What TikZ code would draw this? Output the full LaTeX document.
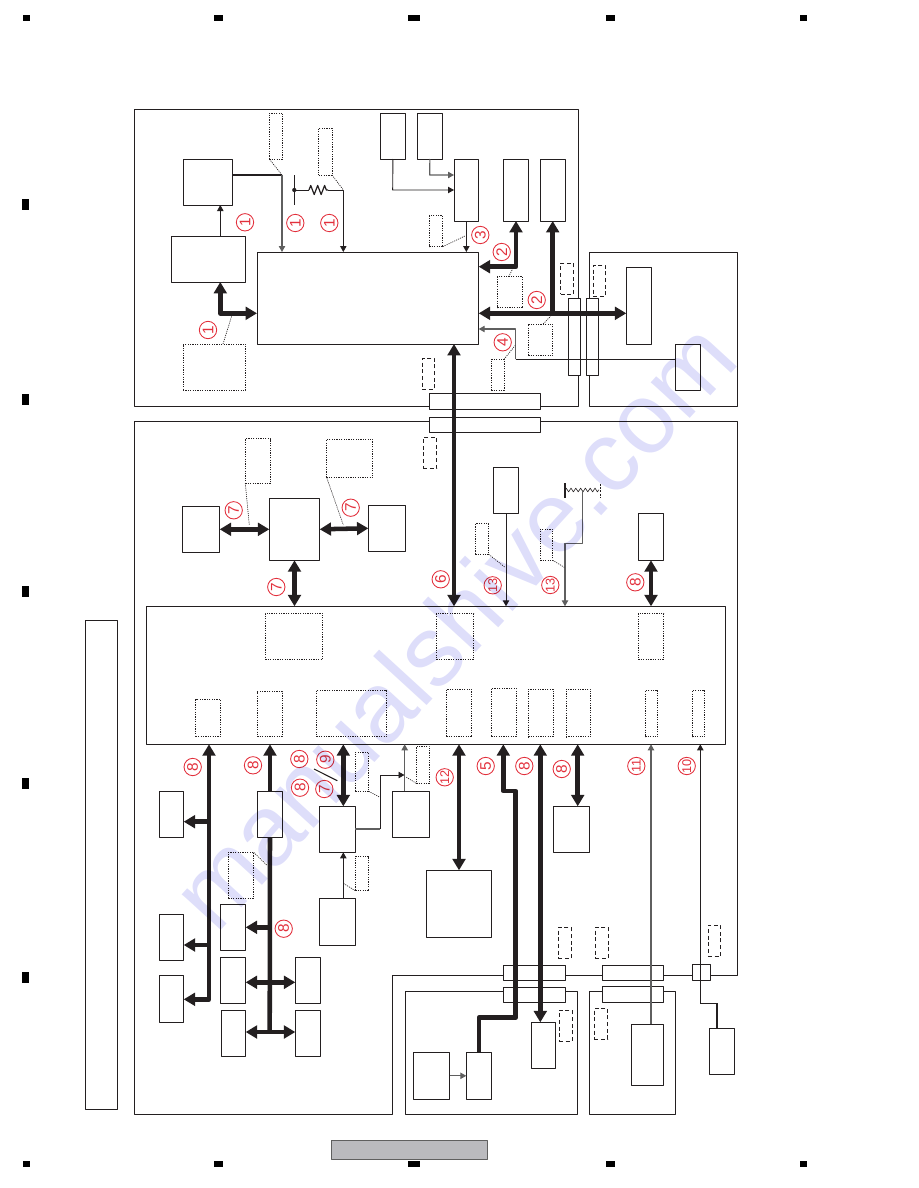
\documentclass[tikz,border=0pt]{standalone}
\usepackage{fontspec}
\setmainfont{Liberation Sans}
\usetikzlibrary{arrows.meta,decorations.pathmorphing}
\definecolor{ink}{RGB}{35,31,32}
\definecolor{wiregray}{RGB}{95,95,95}
\definecolor{numred}{RGB}{226,48,60}
\definecolor{wmark}{RGB}{222,222,250}
\definecolor{tabgray}{RGB}{186,186,190}
\tikzset{
  sz/.style 2 args={minimum width=#1*.75pt,minimum height=#2*.75pt},
  blk/.style={draw=ink,fill=white,line width=.75pt,inner sep=0pt,outer sep=0pt},
  frm/.style={draw=ink,line width=.75pt,inner sep=0pt,outer sep=0pt},
  dotbox/.style={draw=ink,line width=.75pt,dash pattern=on .9pt off .9pt,inner sep=0pt,outer sep=0pt},
  dashbox/.style={draw=ink,line width=.6pt,dash pattern=on 3pt off 2pt,inner sep=0pt,outer sep=0pt},
  leader/.style={draw=ink,line width=.5pt,dash pattern=on .8pt off .8pt},
  wire/.style={draw=ink,line width=.7pt},
  graywire/.style={draw=wiregray,line width=.85pt},
  hvy/.style={draw=ink,line width=1.5pt},
  wiretip/.style={-{Triangle[width=4.8pt,length=4.5pt]}},
  bus/.style={draw=ink,line width=3.4pt},
  busone/.style={bus,-{Triangle[width=9.5pt,length=8.5pt]}},
  bustwo/.style={bus,{Triangle[width=9.5pt,length=8.5pt]}-{Triangle[width=9.5pt,length=8.5pt]}},
  num/.style={circle,draw=numred,text=numred,line width=.65pt,minimum size=13pt,inner sep=0pt,rotate=90,font=\fontsize{11.5}{11}\selectfont},
  numtwo/.style={num,font=\fontsize{9.5}{9}\selectfont},
  pagemark/.style={fill=black,inner sep=0pt,outer sep=0pt},
  wmtext/.style={text=wmark,rotate=47.5,blend mode=multiply,font=\fontsize{75}{80}\selectfont}
}
\begin{document}
\begin{tikzpicture}[x=.75pt,y=-.75pt,line join=round]
  \useasboundingbox (0,0) rectangle (918,1188);
  % frames
  \node[frm,sz={443.7}{297}] (frameA) at (356.2,257.5) {};
  \node[frm,sz={148}{153.6}] (frameB) at (663.3,329.5) {};
  \coordinate (cA) at (134.3,421.7); \coordinate (cB) at (737.3,421.7); \coordinate (cC) at (737.3,975.3);
  \coordinate (cD) at (392.5,975.3); \coordinate (cE) at (392.5,1114.3); \coordinate (cF) at (134.3,1114.3);
  \draw[frm] (cA)--(cB)--(cC)--(cD)--(cE)--(cF)--cycle;
  \node[frm,sz={172.4}{123}] (frameR) at (491.5,1052.8) {};
  \node[frm,sz={86.4}{123}] (frameS) at (632.5,1052.8) {};
  \node[frm,sz={32.4}{489.3}] (sideTab) at (101.5,864.7) {};
  % connector strips
  \node[blk,sz={111.4}{16}] (stripP) at (485,401.3) {};
  \node[blk,sz={111.4}{15}] (stripQ) at (485,424.8) {};
  \node[blk,sz={12}{77.4}] (stripR) at (574.3,337) {};
  \node[blk,sz={12}{77.4}] (stripS) at (592.3,337) {};
  \node[blk,sz={62.4}{15.4}] (stripO) at (534.5,973) {};
  \node[blk,sz={62.4}{15.4}] (stripT) at (534.5,995) {};
  \node[blk,sz={61.4}{15.4}] (stripU) at (633,973) {};
  \node[blk,sz={61.4}{16.4}] (stripV) at (633,994.5) {};
  \node[blk,sz={18.4}{16.4}] (stripW) at (701.5,972.5) {};
  % upper board
  \node[blk,sz={49.7}{46}] (regC) at (207.85,182) {};
  \node[blk,sz={74.7}{46}] (regD) at (208.35,259) {};
  \node[blk,sz={221.7}{92}] (mainA) at (367.85,298) {};
  \node[blk,sz={25.7}{46}] (boxF) at (392.85,136) {};
  \node[blk,sz={25.7}{46}] (boxG) at (429.85,136) {};
  \node[blk,sz={24.7}{62}] (boxH) at (466.35,190) {};
  \node[blk,sz={25.7}{62}] (boxI) at (515.85,190) {};
  \node[blk,sz={25.7}{62}] (boxJ) at (552.85,190) {};
  \node[blk,sz={25.4}{77}] (boxV) at (639,305.8) {};
  \node[blk,sz={25.4}{46}] (boxW) at (688,367.3) {};
  % lower board
  \node[blk,sz={578.6}{138}] (mainB) at (436,675.3) {};
  \node[blk,sz={37.4}{46}] (memL) at (201,529.3) {};
  \node[blk,sz={50.4}{62}] (memC) at (294.5,529.3) {};
  \node[blk,sz={37.4}{46}] (memR) at (387,528.3) {};
  \node[blk,sz={25.4}{46}] (boxY) at (506,490.3) {};
  \node[blk,sz={25.4}{47}] (boxAA) at (651,536.8) {};
  \node[blk,sz={24.4}{46}] (ca) at (171.5,814.3) {};
  \node[blk,sz={24.4}{46}] (cb) at (171.5,937.3) {};
  \node[blk,sz={24.4}{47}] (cc) at (171.5,998.8) {};
  \node[blk,sz={25.4}{46}] (da) at (270,814.3) {};
  \node[blk,sz={25.4}{46}] (db) at (233,927.3) {};
  \node[blk,sz={25.4}{46}] (dc) at (233,980.3) {};
  \node[blk,sz={25.4}{46}] (dd) at (308,980.3) {};
  \node[blk,sz={24.4}{46}] (de) at (233.5,1033.3) {};
  \node[blk,sz={25.4}{46}] (df) at (308,1033.3) {};
  \node[blk,sz={36}{46}] (boxf) at (337.3,829.3) {};
  \node[blk,sz={36}{47}] (boxg) at (337.3,921.8) {};
  \node[blk,sz={37.4}{46}] (boxi) at (411,814.3) {};
  \node[blk,sz={65}{67}] (boxj) at (458.8,903.8) {};
  \node[blk,sz={25.4}{47}] (boxk) at (479,1075.8) {};
  \node[blk,sz={36.4}{47}] (boxl) at (431.5,1075.8) {};
  \node[blk,sz={24.4}{46}] (boxm) at (543.5,1045.3) {};
  \node[blk,sz={36.4}{46}] (boxn) at (571.5,829.3) {};
  \node[blk,sz={32.4}{61.4}] (boxt) at (647.5,1055) {};
  \node[blk,sz={25.4}{46}] (boxu) at (722,1051.3) {};
  % dotted and dashed outlines
  \node[dotbox,sz={62.7}{46}] (dotE) at (214.35,367) {};
  \node[dotbox,sz={13.4}{46}] (dotA) at (276,136) {};
  \node[dotbox,sz={13.3}{47}] (dotB) at (325.35,151.5) {};
  \node[dotbox,sz={13.4}{31}] (dotK) at (436,231.2) {};
  \node[dotbox,sz={25.4}{31}] (dotL) at (510,292.2) {};
  \node[dotbox,sz={24.4}{31.7}] (dotM) at (540.5,339.85) {};
  \node[dotbox,sz={12.7}{31}] (dotN) at (497.65,374.8) {};
  \node[dotbox,sz={13.4}{30.6}] (dotZ) at (482,539) {};
  \node[dotbox,sz={12.4}{31}] (dotX) at (546.5,544.8) {};
  \node[dotbox,sz={25.4}{44.6}] (dotP) at (258,461) {};
  \node[dotbox,sz={46.4}{38.4}] (dotQ) at (349.5,458.5) {};
  \node[dotbox,sz={57.4}{46}] (pinA) at (294,636.3) {};
  \node[dotbox,sz={25}{36.6}] (pinB) at (208.2,718) {};
  \node[dotbox,sz={25}{44.6}] (pinC) at (269.8,714) {};
  \node[dotbox,sz={70.4}{46}] (pinD) at (351.5,713.3) {};
  \node[dotbox,sz={37.4}{45.3}] (pinE) at (455,636.6) {};
  \node[dotbox,sz={25.4}{45.3}] (pinF) at (651,636.6) {};
  \node[dotbox,sz={25.4}{47.4}] (pinG) at (459,713) {};
  \node[dotbox,sz={24.7}{48.4}] (pinH) at (503.65,712.5) {};
  \node[dotbox,sz={24.7}{47.4}] (pinI) at (540.65,713) {};
  \node[dotbox,sz={24.7}{47.4}] (pinJ) at (578.35,713) {};
  \node[dotbox,sz={12.4}{46.4}] (pinK) at (651.5,713.5) {};
  \node[dotbox,sz={12.4}{46.4}] (pinL) at (698.5,713.5) {};
  \node[dotbox,sz={25.4}{46}] (dotY) at (241,875.3) {};
  \node[dotbox,sz={13.4}{39}] (dotR) at (362,771.8) {};
  \node[dotbox,sz={13.4}{34.4}] (dotS) at (362,873.5) {};
  \node[dotbox,sz={13.4}{37}] (dotT) at (423,764.8) {};
  \node[dashbox,sz={12.4}{31}] (dashO) at (428.5,373.8) {};
  \node[dashbox,sz={13}{31}] (dashT) at (567.2,278.8) {};
  \node[dashbox,sz={12.4}{31}] (dashU) at (599.5,280.8) {};
  \node[dashbox,sz={13.4}{31.4}] (dashX) at (430,453) {};
  \node[dashbox,sz={12.7}{31.4}] (dashA) at (564.7,943) {};
  \node[dashbox,sz={12.7}{31.4}] (dashB) at (601.7,943) {};
  \node[dashbox,sz={12.7}{31}] (dashC) at (714.3,940.8) {};
  \node[dashbox,sz={13}{31}] (dashD) at (565.5,1025.8) {};
  \node[dashbox,sz={13.4}{31}] (dashE) at (601,1023.8) {};
  % upper wires
  \coordinate (jC) at (282,175); \coordinate (jR) at (343.3,190); \coordinate (jRa) at (294.3,190);
  \coordinate (jRb) at (309,190); \coordinate (jRc) at (328,190); \coordinate (barRa) at (294.3,175); \coordinate (barRb) at (294.3,205.3);
  \coordinate (jF) at (392.7,190); \coordinate (jG) at (429.7,175);
  \coordinate (jD) at (220.3,313.3); \coordinate (jI) at (516,266.7); \coordinate (jJ) at (552.7,313.3);
  \coordinate (jW) at (515.7,359.3); \coordinate (jWa) at (515.7,329);
  \draw[hvy] (regC.east |- jC)--(jC);
  \draw[graywire,wiretip] (jC)--(jC |- mainA.north);
  \draw[wire] (jRa)--(jRb); \draw[wire,wiretip] (jRc)--(jR)--(jR |- mainA.north);
  \draw[wire,line width=.9pt,decorate,decoration={zigzag,amplitude=3.4pt,segment length=5.2pt}] (jRb)--(jRc);
  \draw[wire] (barRa)--(barRb); \fill[ink] (jRa) circle (1.6pt);
  \draw[wire,wiretip] (220.3,0 |- regD.north)--(220.3,0 |- regC.south);
  \draw[wire,wiretip] (boxF.south)--(jF)--(jF -| boxH.west);
  \draw[graywire,wiretip] (boxG.south)--(jG)--(jG -| boxH.west);
  \draw[wire,wiretip] (boxH.south)--(boxH.south |- mainA.north);
  \draw[bustwo] (jD |- regD.south)--(jD)--(jD -| mainA.west);
  \draw[bustwo] (jI |- boxI.south)--(jI)--(jI -| mainA.east);
  \draw[bustwo] (jD -| mainA.east)--(jD -| boxV.west);
  \draw[busone] (jJ)--(jJ |- boxJ.south);
  \draw[graywire,wiretip] (jW)--(jWa)--(jWa -| mainA.east);
  \draw[wire] (jW)--(jW -| boxW.west);
  % lower wires
  \coordinate (jM) at (454,400); \coordinate (jS) at (582.7,490); \coordinate (jSa) at (582.7,543.3); \coordinate (jSb) at (565,543.3);
  \coordinate (barSa) at (565,483.3); \coordinate (barSb) at (565,497.7); \coordinate (jSc) at (565,490); \coordinate (jSd) at (599,490);
  \coordinate (gndA) at (600.5,483.5); \coordinate (gndB) at (600.5,498);
  \draw[bustwo] (jM |- mainA.south)--(jM |- mainB.north);
  \draw[wire,wiretip] (boxY.south)--(boxY.south |- mainB.north);
  \draw[wire,line width=.45pt,decorate,decoration={zigzag,amplitude=1.4pt,segment length=3.6pt}] (jSc)--(jSd);
  \draw[wire,line width=1.2pt] (barSa)--(barSb);
  \draw[wire,dash pattern=on 1.5pt off 1pt,line width=.9pt] (gndA)--(gndB);
  \draw[graywire,wiretip] (jS)--(jSa)--(jSb)--(jSb |- mainB.north);
  \draw[bustwo] (boxAA.south)--(boxAA.south |- mainB.north);
  \draw[bustwo] (memL.east)--(memC.west);
  \draw[bustwo] (memC.east)--(memR.west);
  \draw[bustwo] (memC.south)--(memC.south |- mainB.north);
  % bus bundles under the main block
  \coordinate (jLa) at (209,821.7); \coordinate (jLb) at (209,945); \coordinate (jLc) at (209,999.3);
  \coordinate (jNa) at (269.7,927.3); \coordinate (jNb) at (269.7,982.3); \coordinate (jNc) at (269.7,1032);
  \draw[bustwo] (jLc |- mainB.south)--(jLc)--(jLc -| cc.east);
  \draw[busone] (jLa)--(jLa -| ca.east);
  \draw[busone] (jLb)--(jLb -| cb.east);
  \draw[busone] (da.north)--(da.north |- mainB.south);
  \draw[bus] (da.south)--(jNc);
  \draw[busone] (jNa)--(jNa -| db.east);
  \draw[bustwo] (jNb -| dc.east)--(jNb -| dd.west);
  \draw[bustwo] (jNc -| de.east)--(jNc -| df.west);
  \coordinate (jf) at (380.3,829); \coordinate (jfa) at (380.3,775); \coordinate (jfb) at (404.5,775);
  \draw[bustwo] (343.3,0 |- boxf.north)--(343.3,0 |- mainB.south);
  \draw[wire,wiretip] (343.3,0 |- boxg.north)--(343.3,0 |- boxf.south);
  \draw[graywire] (jf -| boxf.east)--(jf);
  \draw[wire,wiretip] (jf)--(jfa)--(jfb);
  \draw[graywire,wiretip] (404.7,0 |- boxi.north)--(404.7,0 |- mainB.south);
  \draw[bustwo] (459,0 |- boxj.north)--(459,0 |- mainB.south);
  \coordinate (jHa) at (503.3,791); \coordinate (jHb) at (515.7,791); \coordinate (jHc) at (515.7,1017.7); \coordinate (jHd) at (479,1017.7);
  \draw[busone] (jHd |- boxk.north)--(jHd)--(jHc)--(jHb)--(jHa)--(jHa |- mainB.south);
  \draw[bustwo] (540.3,0 |- boxm.north)--(540.3,0 |- mainB.south);
  \draw[bustwo] (577.7,0 |- boxn.north)--(577.7,0 |- mainB.south);
  \draw[wire,wiretip,draw=wiregray] (boxl.east)--(boxl.east -| boxk.west);
  \coordinate (jTa) at (651,1024.3); \coordinate (jUa) at (700.3,1003.3); \coordinate (jUb) at (717,1003.3);
  \draw[graywire,wiretip] (jTa)--(jTa |- mainB.south);
  \draw[wire,wiretip] (jUa)--(jUa |- mainB.south);
  \draw[wire] (jUa)--(jUb); \draw[hvy] (jUb)--(jUb |- boxu.north);
  \coordinate (slashA) at (314,769); \coordinate (slashB) at (337.3,780.7);
  \draw[wire,line width=.8pt] (slashA)--(slashB);
  % leaders
  \coordinate (lA) at (282,175); \coordinate (lB) at (343.3,190); \coordinate (lE) at (231.7,316); \coordinate (lK) at (465,236);
  \coordinate (lL) at (513,268); \coordinate (lM) at (550.7,316); \coordinate (lN) at (515,345.7); \coordinate (lZ) at (505,567.3);
  \coordinate (lX) at (564.3,567.3); \coordinate (lP) at (249.3,525); \coordinate (lQ) at (343.3,525); \coordinate (lY) at (266.7,865);
  \coordinate (lR) at (380,797.3); \coordinate (lS) at (343.3,883.3); \coordinate (lT) at (405.5,776.7);
  \draw[leader] (dotA.south west)--(lA); \draw[leader] (dotB.south east)--(lB);
  \draw[leader] ([xshift=6.5pt]dotE.north)--(lE); \draw[leader] (dotK.south east)--(lK);
  \draw[leader] ([xshift=-1pt]dotL.north)--(lL); \draw[leader] ([xshift=2pt]dotM.north)--(lM);
  \draw[leader] (dotN.north east)--(lN); \draw[leader] (dotZ.south east)--(lZ);
  \draw[leader] (dotX.south east)--(lX); \draw[leader] (dotP.south west)--(lP);
  \draw[leader] ([yshift=1pt]dotQ.south west)--(lQ); \draw[leader] (dotY.north east)--(lY);
  \draw[leader] (dotR.south east)--(lR); \draw[leader] (dotS.south west)--(lS);
  \draw[leader] (dotT.south west)--(lT);
  % circled numbers
  \node[num] (n1a) at (245,222.3) {1}; \node[num] (n1b) at (295.3,223) {1}; \node[num] (n1c) at (329.3,223) {1}; \node[num] (n1d) at (208,330) {1};
  \node[num] (n3a) at (480.3,235) {3}; \node[num] (n2a) at (501.7,252) {2}; \node[num] (n2b) at (536.7,300) {2}; \node[num] (n4a) at (502.7,342.3) {4};
  \node[num] (n6a) at (440.7,579.3) {6}; \node[numtwo] (n13a) at (492.7,585.3) {13}; \node[numtwo] (n13b) at (550.3,585) {13}; \node[num] (n8a) at (635.3,582.3) {8};
  \node[num] (n7a) at (233.7,510.3) {7}; \node[num] (n7b) at (350.7,507.7) {7}; \node[num] (n7c) at (276.3,587) {7};
  \node[num] (n8b) at (192.7,767) {8}; \node[num] (n8c) at (253,765.3) {8}; \node[num] (n8d) at (299.3,759) {8}; \node[num] (n8e) at (300,787.7) {8};
  \node[num] (n9a) at (325.3,759.7) {9}; \node[num] (n7d) at (324.3,789) {7}; \node[num] (n8f) at (283.7,928.7) {8};
  \node[numtwo] (n12a) at (444.7,777.3) {12}; \node[num] (n5a) at (485.7,766) {5}; \node[num] (n8g) at (524.3,766) {8}; \node[num] (n8h) at (561.7,769) {8};
  \node[numtwo] (n11a) at (636.3,766) {11}; \node[numtwo] (n10a) at (686.7,766) {10};
  % page furniture
  \node[pagemark,sz={7}{6}] (topA) at (26,18) {}; \node[pagemark,sz={9}{6}] (topB) at (218,18) {}; \node[pagemark,sz={12}{6}] (topC) at (414,18) {}; \node[pagemark,sz={9}{6}] (topD) at (610,18) {}; \node[pagemark,sz={7}{6}] (topE) at (803,18) {};
  \node[pagemark,sz={7}{6}] (botA) at (26,1164) {}; \node[pagemark,sz={9}{6}] (botB) at (218,1164) {}; \node[pagemark,sz={12}{6}] (botC) at (414,1164) {}; \node[pagemark,sz={9}{6}] (botD) at (610,1164) {}; \node[pagemark,sz={7}{6}] (botE) at (803,1164) {};
  \node[pagemark,sz={6.5}{11}] (sideA) at (25.5,204.5) {}; \node[pagemark,sz={6.5}{11}] (sideB) at (25.5,399.5) {}; \node[pagemark,sz={6.5}{11}] (sideC) at (25.5,591.5) {}; \node[pagemark,sz={6.5}{11}] (sideD) at (25.5,783.5) {}; \node[pagemark,sz={6.5}{11}] (sideE) at (25.5,977.5) {};
  \node[draw=wiregray,fill=tabgray,line width=.75pt,inner sep=0pt,sz={156}{19}] (pageTab) at (409,1149.5) {};
  % watermark
  \node[wmtext] (wm) at (452.5,625) {manualshive.com};
\end{tikzpicture}
\end{document}
